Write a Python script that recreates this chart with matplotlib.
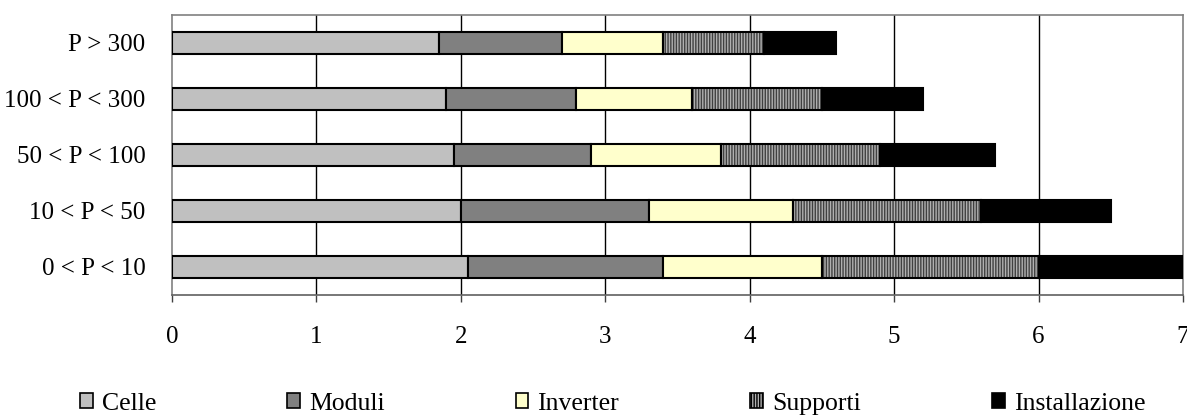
import matplotlib
matplotlib.use("Agg")
import matplotlib.pyplot as plt
from matplotlib.patches import Patch
import numpy as np

# fasce di potenza (dall'alto verso il basso)
categorie = ["P > 300", "100 < P < 300", "50 < P < 100", "10 < P < 50", "0 < P < 10"]

# componenti di costo per fascia
celle = [1.85, 1.9, 1.95, 2.0, 2.05]
moduli = [0.85, 0.9, 0.95, 1.3, 1.35]
inverter = [0.7, 0.8, 0.9, 1.0, 1.1]
supporti = [0.7, 0.9, 1.1, 1.3, 1.5]
installazione = [0.5, 0.7, 0.8, 0.9, 1.0]

serie = ["Celle", "Moduli", "Inverter", "Supporti", "Installazione"]
colori = ["#c0c0c0", "#808080", "#ffffcc", "#b0b0b0", "#000000"]

plt.rcParams["font.family"] = ["Liberation Serif", "DejaVu Serif"]
plt.rcParams["hatch.linewidth"] = 1.0

fig = plt.figure(figsize=(11.87, 4.15), dpi=100)
ax = fig.add_axes([0.1449, 0.2892, 0.8517, 0.6747])

y = np.arange(len(categorie))[::-1]
h = 0.4
left = np.zeros(len(categorie))
valori = [celle, moduli, inverter, supporti, installazione]

for nome, col, val in zip(serie, colori, valori):
    val = np.array(val)
    if nome == "Supporti":
        # riempimento a righe verticali, poi il bordo nero sopra
        ax.barh(y, val, left=left, height=h, color=col, edgecolor="#404040",
                hatch="||||||", linewidth=0, zorder=2)
        ax.barh(y, val, left=left, height=h, fill=False, edgecolor="black",
                linewidth=1.5, zorder=3)
    else:
        ax.barh(y, val, left=left, height=h, color=col, edgecolor="black",
                linewidth=1.5, zorder=3)
    left = left + val

ax.set_xlim(0, 7)
ax.set_ylim(-0.5, 4.5)
ax.set_xticks(range(8))
ax.set_yticks(y)
ax.set_yticklabels(categorie)

for xv in range(1, 7):
    ax.axvline(xv, color="black", linewidth=1.0, zorder=1)

for s in ["top", "left", "right"]:
    ax.spines[s].set_color("#808080")
    ax.spines[s].set_linewidth(1.2)
ax.spines["bottom"].set_color("#606060")
ax.spines["bottom"].set_linewidth(1.2)

ax.tick_params(axis="y", length=0, pad=19, labelsize=18)
ax.tick_params(axis="x", length=5, width=1, color="#404040", direction="out",
               pad=17, labelsize=18)

handles = []
for nome, col in zip(serie, colori):
    if nome == "Supporti":
        handles.append(Patch(facecolor=col, edgecolor="black", hatch="||||||",
                             linewidth=1.2, label=nome))
    else:
        handles.append(Patch(facecolor=col, edgecolor="black", linewidth=1.2,
                             label=nome))

fig.legend(handles=handles, loc="center", bbox_to_anchor=(0.516, 0.027),
           ncol=5, frameon=False, fontsize=18.5, handlelength=0.5,
           handleheight=0.5, handletextpad=0.35, columnspacing=5.1)

fig.savefig("out.png", dpi=100)
